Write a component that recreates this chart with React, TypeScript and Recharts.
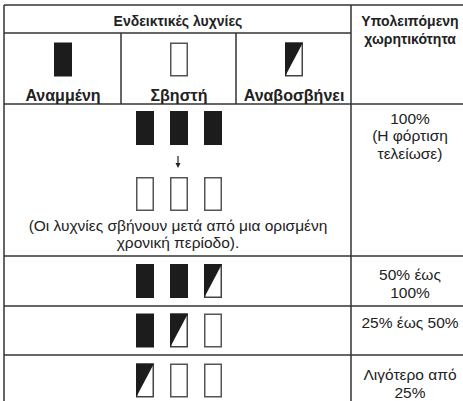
import React from "react";
import { ComposedChart, XAxis, YAxis, Scatter, ReferenceLine } from "recharts";

// ---- data ----
const headerTitle = "Ενδεικτικές λυχνίες";
const capacityTitle = ["Υπολειπόμενη", "χωρητικότητα"];
const legendStates = ["on", "off", "blink"];
const legendNames = ["Αναμμένη", "Σβηστή", "Αναβοσβήνει"];
const fullStates = ["on", "on", "on"];
const fullAfterStates = ["off", "off", "off"];
const fullNote = ["(Οι λυχνίες σβήνουν μετά από μια ορισμένη", "χρονική περίοδο)."];
const fullLabel = ["100%", "(Η φόρτιση", "τελείωσε)"];
const levelStates = [
  ["on", "on", "blink"],
  ["on", "blink", "off"],
  ["blink", "off", "off"],
];
const levelLabels = [["50% έως", "100%"], ["25% έως 50%"], ["Λιγότερο από", "25%"]];

// ---- layout (pixel space of the chart's own axes) ----
const W = 463;
const H = 401;
const XL = 4;
const XD = 351;
const XS = [121, 236];
const YT = 5;
const YH = 33;
const YR = [104, 256, 306, 355];
const LEG_X = [63, 179, 294];
const SLOT_X = [145, 179, 213];
const RIGHT_X = 410;
const LAMP_W = 18;
const LAMP_H = 34;
const FONT = "'Liberation Sans', Arial, Helvetica, sans-serif";
const INK = "#1c1c1c";
const LINE = "#333";

const lampPoints = [
  ...legendStates.map((s, i) => ({ x: LEG_X[i], y: 59.5, state: s })),
  ...fullStates.map((s, i) => ({ x: SLOT_X[i], y: 128, state: s })),
  ...fullAfterStates.map((s, i) => ({ x: SLOT_X[i], y: 194, state: s })),
  ...levelStates.flatMap((row, r) =>
    row.map((s, i) => ({ x: SLOT_X[i], y: [281, 330.5, 380.5][r], state: s }))
  ),
];

type TextPt = { x: number; y: number; text: string; bold?: boolean; size: number };
const lines = (arr: string[], x: number, y0: number, step: number, size: number, bold = false): TextPt[] =>
  arr.map((t, i) => ({ x, y: y0 + i * step, text: t, bold, size }));

const textPoints: TextPt[] = [
  { x: 178, y: 21, text: headerTitle, bold: true, size: 14 },
  ...lines(capacityTitle, RIGHT_X, 21, 17.5, 14, true),
  ...legendNames.map((t, i) => ({ x: LEG_X[i], y: 95, text: t, bold: true, size: 16 })),
  ...lines(fullNote, 178, 225, 17.5, 15.5),
  ...lines(fullLabel, RIGHT_X, 118, 17.5, 15.5),
  ...lines(levelLabels[0], RIGHT_X, 274, 18, 15.5),
  ...lines(levelLabels[1], RIGHT_X, 322, 18, 15.5),
  ...lines(levelLabels[2], RIGHT_X, 374, 18, 15.5),
];

const arrowPoints = [{ x: 178, y: 162 }];

const Lamp = (props: any) => {
  const { cx, cy, payload } = props;
  const x = cx - LAMP_W / 2;
  const y = cy - LAMP_H / 2;
  if (payload.state === "on") {
    return <rect x={x} y={y} width={LAMP_W} height={LAMP_H} fill={INK} />;
  }
  if (payload.state === "off") {
    return (
      <rect x={x + 0.75} y={y + 0.75} width={LAMP_W - 1.5} height={LAMP_H - 1.5} fill="#fff" stroke="#555" strokeWidth={1.5} />
    );
  }
  return (
    <g>
      <rect x={x + 0.75} y={y + 0.75} width={LAMP_W - 1.5} height={LAMP_H - 1.5} fill="#fff" stroke="#444" strokeWidth={1.5} />
      <polygon points={`${x},${y} ${x + LAMP_W},${y} ${x},${y + LAMP_H}`} fill={INK} />
    </g>
  );
};

const TextShape = (props: any) => {
  const { cx, cy, payload } = props;
  return (
    <text
      x={cx}
      y={cy}
      textAnchor="middle"
      dominantBaseline="central"
      fontFamily={FONT}
      fontSize={payload.size}
      fontWeight={payload.bold ? "bold" : "normal"}
      fill="#222"
    >
      {payload.text}
    </text>
  );
};

const ArrowShape = (props: any) => {
  const { cx, cy } = props;
  return (
    <g>
      <line x1={cx} y1={cy - 6} x2={cx} y2={cy + 2} stroke="#222" strokeWidth={1.2} />
      <polygon points={`${cx - 2.5},${cy + 1} ${cx + 2.5},${cy + 1} ${cx},${cy + 6}`} fill="#222" />
    </g>
  );
};

const seg = (x1: number, y1: number, x2: number, y2: number, key: string) => (
  <ReferenceLine
    key={key}
    segment={[{ x: x1, y: y1 }, { x: x2, y: y2 }]}
    stroke={LINE}
    strokeWidth={1.5}
    ifOverflow="visible"
  />
);

export default function App() {
  return (
    <div style={{ position: "absolute", left: 0, top: 0, width: W, height: H, background: "#fff" }}>
      <ComposedChart width={W} height={H} margin={{ top: 0, right: 0, bottom: 0, left: 0 }}>
        <XAxis type="number" dataKey="x" domain={[0, W]} hide allowDataOverflow />
        <YAxis type="number" dataKey="y" domain={[0, H]} reversed hide allowDataOverflow />
        {seg(XL, YT, W, YT, "top")}
        {seg(XL, YH, XD, YH, "hdr")}
        {YR.map((y, i) => seg(XL, y, W, y, "r" + i))}
        {seg(XL, YT, XL, H, "left")}
        {seg(XD, YT, XD, H, "div")}
        {XS.map((x, i) => seg(x, YH, x, YR[0], "s" + i))}
        <Scatter data={lampPoints} shape={<Lamp />} isAnimationActive={false} />
        <Scatter data={arrowPoints} shape={<ArrowShape />} isAnimationActive={false} />
        <Scatter data={textPoints} shape={<TextShape />} isAnimationActive={false} />
      </ComposedChart>
    </div>
  );
}
